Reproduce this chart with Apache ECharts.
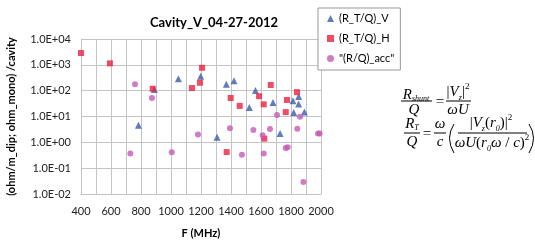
<!DOCTYPE html>
<html>
<head>
<meta charset="utf-8">
<script src="https://cdn.jsdelivr.net/npm/echarts@6/dist/echarts.min.js"></script>
<style>
  html, body { margin: 0; padding: 0; background: #fff; }
  #chart { width: 535px; height: 244px; }
</style>
</head>
<body>
<div id="chart"></div>
<script>
// 数据：频率 (MHz) 和对应的 R/Q 值
var freqV = [783, 889, 1049, 1198, 1307, 1369, 1420, 1522, 1563, 1680, 1727, 1813, 1818, 1851, 1851, 1889];
var rqV   = [4.6, 110, 292, 363, 1.58, 177, 240, 22.4, 101, 34.9, 2.2, 41, 14.4, 60, 30.5, 15.1];

var freqH = [400, 593, 878, 1140, 1193, 1207, 1371, 1398, 1458, 1587, 1618, 1622, 1665, 1765, 1773, 1840];
var rqH   = [2860, 1140, 119, 126, 202, 770, 0.42, 52, 25.8, 61, 29.5, 1.39, 166, 14.8, 43.7, 87.5];

var freqAcc = [729, 760, 873, 1005, 1180, 1393, 1473, 1549, 1611, 1618, 1660, 1707, 1765, 1778, 1842, 1860, 1883, 1980, 1991];
var rqAcc   = [0.37, 177, 52, 0.41, 1.99, 3.47, 0.33, 3.0, 1.87, 0.37, 3.27, 11.5, 0.6, 0.65, 3.36, 9.7, 0.029, 2.2, 2.2];

var seriesNames = ["(R_T/Q)_V", "(R_T/Q)_H", "\"(R/Q)_acc\""];
var xMin = 400, xMax = 2000;
var yMin = 0.01, yMax = 10000;

function pairs(xs, ys) {
  return xs.map(function (x, i) { return [x, ys[i]]; });
}

// 1.0E+04 这种格式
function sciLabel(v) {
  var e = Math.round(Math.log10(v));
  var s = String(Math.abs(e));
  if (s.length < 2) s = "0" + s;
  return "1.0E" + (e < 0 ? "-" : "+") + s;
}

var font = "Lato, 'Liberation Sans', sans-serif";
var serif = "'Liberation Serif', 'DejaVu Serif', serif";
var gridColor = "#c4c4c4";

var eqRich = {
  i: { fontFamily: serif, fontStyle: "italic", fontSize: 15, color: "#000" },
  n: { fontFamily: serif, fontSize: 15, color: "#000" },
  s: { fontFamily: serif, fontStyle: "italic", fontSize: 8, color: "#000", verticalAlign: "bottom", padding: [8, 0, 0, 0] },
  p: { fontFamily: serif, fontSize: 9, color: "#000", verticalAlign: "top", padding: [0, 0, 10, 0] }
};

function eqText(x, y, text) {
  return {
    type: "text",
    style: {
      x: x, y: y, text: text, align: "center", verticalAlign: "middle",
      fontFamily: serif, fontStyle: "italic", fontSize: 15, fill: "#000",
      rich: eqRich
    }
  };
}
function bar(x1, x2, y) {
  return { type: "line", shape: { x1: x1, y1: y, x2: x2, y2: y }, style: { stroke: "#000", lineWidth: 1 } };
}

var option = {
  animation: false,
  title: {
    text: "Cavity_V_04-27-2012",
    left: 145,
    top: 11,
    textStyle: { fontFamily: font, fontSize: 13, fontWeight: "bold", color: "#000" }
  },
  legend: {
    orient: "vertical",
    left: 318,
    top: 8,
    data: seriesNames,
    itemWidth: 7,
    itemHeight: 7,
    itemGap: 9,
    padding: [5, 6, 6, 9],
    borderColor: "#999",
    borderWidth: 1,
    backgroundColor: "#fff",
    itemStyle: { borderWidth: 0 },
    textStyle: { fontFamily: font, fontSize: 11, color: "#000" }
  },
  grid: { left: 81, right: 214, top: 39, bottom: 40 },
  xAxis: {
    type: "value",
    min: xMin,
    max: xMax,
    interval: 100,
    name: "F (MHz)",
    nameLocation: "middle",
    nameGap: 34,
    nameTextStyle: { fontFamily: font, fontSize: 11, fontWeight: "bold", color: "#000" },
    axisLine: { lineStyle: { color: gridColor } },
    axisTick: { show: false },
    splitLine: { lineStyle: { color: gridColor } },
    axisLabel: {
      margin: 12,
      fontFamily: font,
      fontSize: 11,
      color: "#222",
      formatter: function (v) { return v % 200 === 0 ? String(v) : ""; }
    }
  },
  yAxis: {
    type: "log",
    logBase: 10,
    min: yMin,
    max: yMax,
    name: "(ohm/m_dip; ohm_mono) /cavity",
    nameLocation: "middle",
    nameGap: 64,
    nameTextStyle: { fontFamily: font, fontSize: 11, fontWeight: "bold", color: "#000" },
    axisLine: { show: true, lineStyle: { color: gridColor } },
    axisTick: { show: false },
    splitLine: { lineStyle: { color: gridColor } },
    axisLabel: { margin: 10, fontFamily: font, fontSize: 11, color: "#222", formatter: sciLabel }
  },
  series: [
    {
      name: seriesNames[0],
      type: "scatter",
      symbol: "triangle",
      symbolSize: 7,
      itemStyle: { color: "#3a5aab" },
      data: pairs(freqV, rqV)
    },
    {
      name: seriesNames[1],
      type: "scatter",
      symbol: "rect",
      symbolSize: 6,
      itemStyle: { color: "#ee1f40" },
      data: pairs(freqH, rqH)
    },
    {
      name: seriesNames[2],
      type: "scatter",
      symbol: "circle",
      symbolSize: 6,
      itemStyle: { color: "#c65ab5" },
      data: pairs(freqAcc, rqAcc)
    }
  ],
  // 右侧公式
  graphic: [
    eqText(416, 95, "{i|R}{s|shunt}"),
    bar(401, 432, 101),
    eqText(414, 110, "{i|Q}"),
    eqText(440, 102, "{n|=}"),
    eqText(458, 92, "{n||}{i|V}{s|z}{n||}{p|2}"),
    bar(446, 471, 101),
    eqText(458, 110, "{i|ωU}"),

    eqText(412, 124, "{i|R}{s|T}"),
    bar(404, 420, 133),
    eqText(412, 142, "{i|Q}"),
    eqText(427, 134, "{n|=}"),
    eqText(440, 124, "{i|ω}"),
    bar(434, 446, 133),
    eqText(440, 142, "{i|c}"),
    { type: "bezierCurve", shape: { x1: 454, y1: 124, cpx1: 445, cpy1: 138, x2: 454, y2: 153 }, style: { stroke: "#000", lineWidth: 1, fill: null } },
    eqText(491, 123, "{n||}{i|V}{s|z}{n|(}{i|r}{s|0}{n|)}{n||}{p|2}"),
    bar(458, 527, 133),
    eqText(492, 143, "{i|ωU}{n|(}{i|r}{s|0}{i|ω}{n| / }{i|c}{n|)}{p|2}"),
    { type: "bezierCurve", shape: { x1: 529, y1: 124, cpx1: 538, cpy1: 138, x2: 529, y2: 153 }, style: { stroke: "#000", lineWidth: 1, fill: null } }
  ]
};

var chartObj = echarts.init(document.getElementById("chart"));
chartObj.setOption(option);
</script>
</body>
</html>
